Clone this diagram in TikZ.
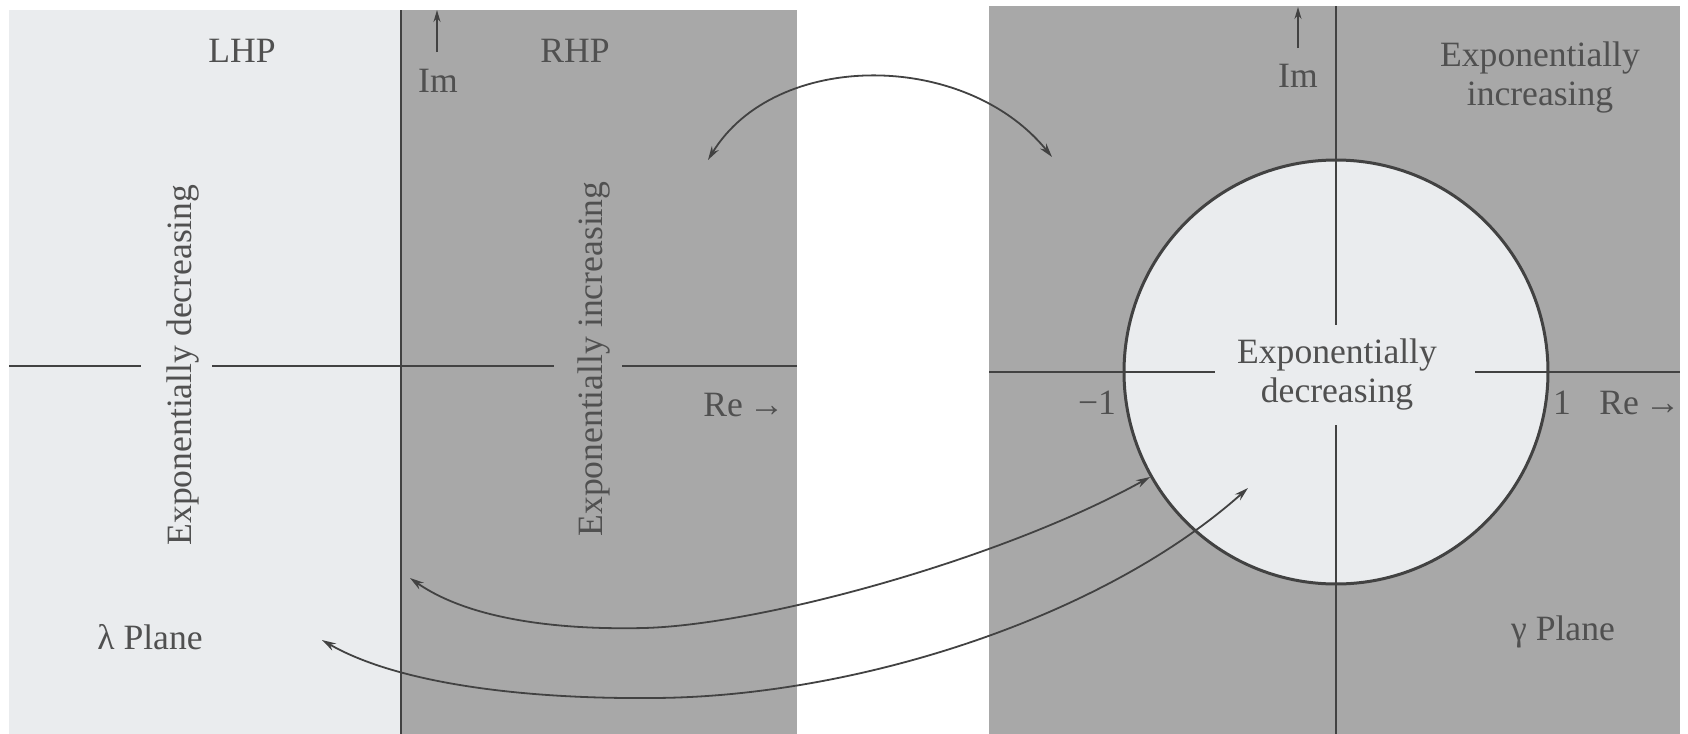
\documentclass[tikz,border=0pt]{standalone}
\usepackage{fontspec}
\setmainfont{Liberation Serif}
\usetikzlibrary{arrows.meta}
\definecolor{darkbg}{RGB}{168,168,168}
\definecolor{lightbg}{RGB}{234,236,238}
\definecolor{ink}{RGB}{66,66,66}
\definecolor{txt}{RGB}{80,80,80}
\begin{document}
\begin{tikzpicture}[x=0.5pt,y=-0.5pt,
  lbl/.style={text=txt,font=\fontsize{17.8}{19.5}\selectfont,inner sep=0pt,align=center},
  axis/.style={draw=ink,line width=1pt},
  maparrow/.style={draw=ink,line width=0.9pt,{Stealth[length=7pt,width=4pt]}-{Stealth[length=7pt,width=4pt]}},
  imarrow/.style={draw=ink,line width=0.8pt,-{Stealth[length=6pt,width=3.5pt]}}]
\useasboundingbox (0,0) rectangle (1688,734);
\fill[white] (0,0) rectangle (1688,734);
% left plane
\fill[lightbg] (9,10) rectangle (401,734);
\fill[darkbg] (401,10) rectangle (797,734);
% right plane
\fill[darkbg] (989,6) rectangle (1680,734);
\filldraw[fill=lightbg,draw=ink,line width=1.5pt] (1336,372) circle[radius=212];

% left axes
\draw[axis] (401,10) -- (401,734);
\draw[axis] (9,366) -- (141,366);
\draw[axis] (212,366) -- (554,366);
\draw[axis] (622,366) -- (797,366);
\coordinate (imLa) at (437,52);
\coordinate (imLb) at (437,10);
\draw[imarrow] (imLa) -- (imLb);

% right axes
\draw[axis] (1336,6) -- (1336,325);
\draw[axis] (1336,425) -- (1336,734);
\draw[axis] (989,372) -- (1215,372);
\draw[axis] (1475,372) -- (1680,372);
\coordinate (imRa) at (1298,48);
\coordinate (imRb) at (1298,7);
\draw[imarrow] (imRa) -- (imRb);

% left labels
\node[lbl] (lhp) at (242,51) {LHP};
\node[lbl] (rhp) at (575,51) {RHP};
\node[lbl] (imL) at (438,81) {Im};
\node[lbl,rotate=90] (decL) at (183,365) {Exponentially decreasing};
\node[lbl,rotate=90] (incL) at (594,359) {Exponentially increasing};
\node[lbl] (reL) at (744,405) {Re\,→};
\node[lbl] (lam) at (150,637) {λ Plane};

% right labels
\node[lbl] (imR) at (1298,76) {Im};
\node[lbl] (incR) at (1540,77) {Exponentially\\increasing};
\node[lbl] (decR) at (1337,374) {Exponentially\\decreasing};
\node[lbl] (m1) at (1097,403) {−1};
\node[lbl] (p1) at (1562,403) {1};
\node[lbl] (reR) at (1640,403) {Re\,→};
\node[lbl] (gam) at (1563,632) {γ Plane};

% mapping arrows
\coordinate (a1) at (708,160);
\coordinate (a2) at (1052,157);
\draw[maparrow] (a1) .. controls (775,50) and (965,50) .. (a2);

\coordinate (b1) at (410,578);
\coordinate (b2) at (1150,477);
\draw[maparrow] (b1) .. controls (470,620) and (560,630) .. (644,628)
  .. controls (760,625) and (1000,560) .. (b2);

\coordinate (c1) at (322,640);
\coordinate (c2) at (1248,488);
\draw[maparrow] (c1) .. controls (400,685) and (530,699) .. (650,698)
  .. controls (850,698) and (1100,620) .. (c2);
\end{tikzpicture}
\end{document}
